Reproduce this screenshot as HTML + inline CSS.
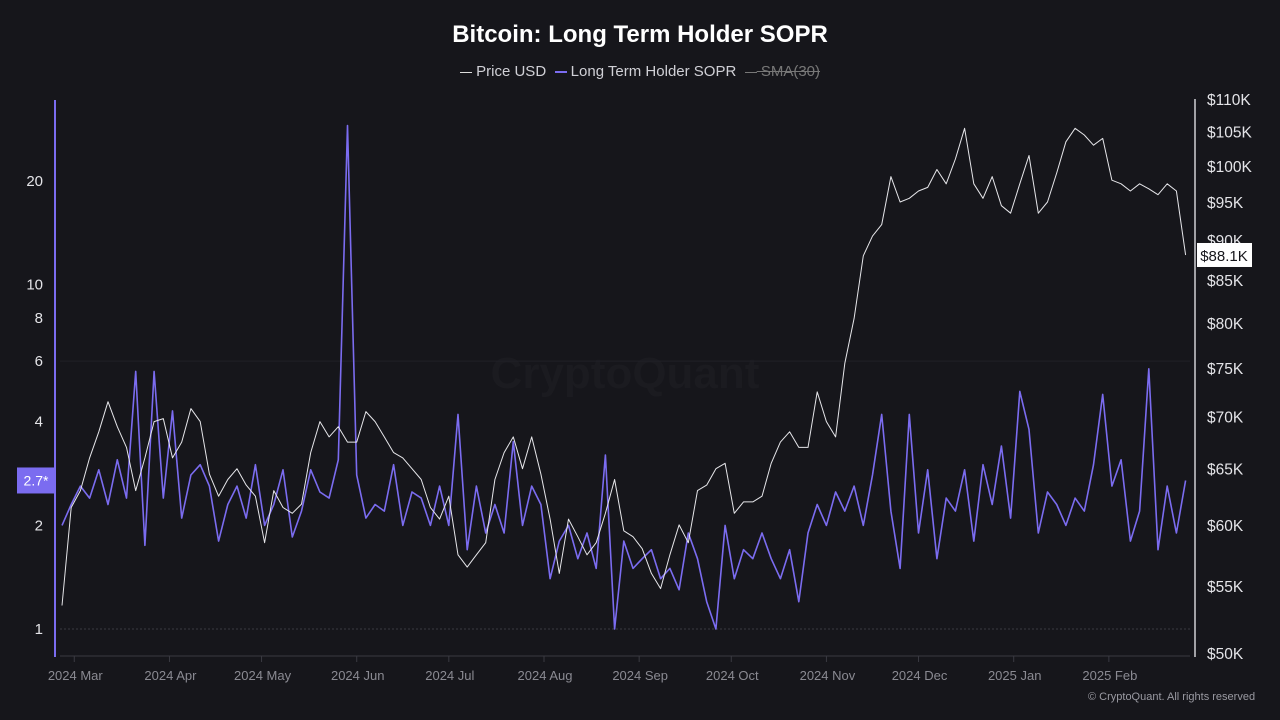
<!DOCTYPE html>
<html><head><meta charset="utf-8"><style>
html,body{margin:0;padding:0;background:#16161b;}
body{width:1280px;height:720px;overflow:hidden;font-family:"Liberation Sans",sans-serif;position:relative;}
.t{position:absolute;color:#c9c9cf;font-size:15px;}
svg text{font-family:"Liberation Sans",sans-serif;}
</style></head><body>
<div style="position:absolute;top:21px;width:1280px;text-align:center;color:#fff;font-size:24px;font-weight:bold;">Bitcoin: Long Term Holder SOPR</div>
<div style="position:absolute;top:63px;width:1280px;text-align:center;color:#d0d0d6;font-size:15px;">
<span><span style="display:inline-block;width:12px;height:1px;background:#ddd;vertical-align:middle"></span> Price USD</span>
&nbsp;<span><span style="display:inline-block;width:12px;height:2px;background:#7b6cf0;vertical-align:middle"></span> Long Term Holder SOPR</span>
&nbsp;<span style="color:#777;text-decoration:line-through"><span style="display:inline-block;width:12px;height:1px;background:#777;vertical-align:middle"></span> SMA(30)</span>
</div>
<svg id="c" width="1280" height="720" style="position:absolute;left:0;top:0">
<text x="625" y="388" text-anchor="middle" font-size="44" font-weight="bold" fill="#1b1b20">CryptoQuant</text>
</svg>
<div class="t" style="left:1088px;top:691px;font-size:11px;color:#9a9aa2">© CryptoQuant. All rights reserved</div>
<script>
const priceStart = "2024-02-26";
const stepDays = 3;
const priceK = [53.5,61.5,63,66,68.5,71.5,69,67,63,66,69.5,69.8,66,67.5,70.8,69.5,64.5,62.5,64,65,63.5,62.5,58.5,63,61.5,61,61.8,66.5,69.5,68,69,67.5,67.5,70.5,69.5,68,66.5,66,65,64,61.5,60.5,62.5,57.5,56.5,57.5,58.5,64,66.5,68,65,68,64.5,60.5,56,60.5,59,57.5,58.5,61,64,59.5,59,58,56,54.8,57.5,60,58.5,63,63.5,65,65.5,61,62,62,62.5,65.5,67.5,68.5,67,67,72.5,69.5,68,75.5,80.5,88,90.5,92,98.5,95,95.5,96.5,97,99.5,97.5,101,105.5,97.5,95.5,98.5,94.5,93.5,97.5,101.5,93.5,95,99,103.5,105.5,104.5,103,104,98,97.5,96.5,97.5,96.8,96,97.5,96.5,88.1];
const sopr = [2.0,2.3,2.6,2.4,2.9,2.3,3.1,2.4,5.6,1.75,5.6,2.4,4.3,2.1,2.8,3.0,2.6,1.8,2.3,2.6,2.1,3.0,2.0,2.3,2.9,1.85,2.2,2.9,2.5,2.4,3.1,29,2.8,2.1,2.3,2.2,3.0,2.0,2.5,2.4,2.0,2.6,2.0,4.2,1.7,2.6,1.9,2.3,1.9,3.5,2.0,2.6,2.3,1.4,1.8,2.0,1.6,1.9,1.5,3.2,1.0,1.8,1.5,1.6,1.7,1.4,1.5,1.3,1.9,1.6,1.2,1.0,2.0,1.4,1.7,1.6,1.9,1.6,1.4,1.7,1.2,1.9,2.3,2.0,2.5,2.2,2.6,2.0,2.8,4.2,2.2,1.5,4.2,1.9,2.9,1.6,2.4,2.2,2.9,1.8,3.0,2.3,3.4,2.1,4.9,3.8,1.9,2.5,2.3,2.0,2.4,2.2,3.0,4.8,2.6,3.1,1.8,2.2,5.7,1.7,2.6,1.9,2.7];
const leftTicks = [1,2,4,6,8,10,20];
const rightTicks = [50,55,60,65,70,75,80,85,90,95,100,105,110];
const monthTicks = ["2024-03-01","2024-04-01","2024-05-01","2024-06-01","2024-07-01","2024-08-01","2024-09-01","2024-10-01","2024-11-01","2024-12-01","2025-01-01","2025-02-01"];
const monthLabels = ["2024 Mar","2024 Apr","2024 May","2024 Jun","2024 Jul","2024 Aug","2024 Sep","2024 Oct","2024 Nov","2024 Dec","2025 Jan","2025 Feb"];

const NS="http://www.w3.org/2000/svg", svg=document.getElementById('c');
const t0=Date.parse(priceStart);
const xDay=d=>62+d*3.07;
const xDate=s=>xDay((Date.parse(s)-t0)/864e5);
const yL=v=>629-Math.log10(v)*344.3;
const yR=v=>653-Math.log(v/50)/Math.log(110/50)*554;
function mk(tag,at){const e=document.createElementNS(NS,tag);for(const k in at)e.setAttribute(k,at[k]);svg.appendChild(e);return e;}
let g=mk('line',{x1:60,x2:1190,y1:yL(1),y2:yL(1),stroke:'#3a3a42','stroke-dasharray':'2,2'});


g=mk('line',{x1:60,x2:1190,y1:yL(6),y2:yL(6),stroke:'#202027'});


g=mk('line',{x1:60,x2:1190,y1:656,y2:656,stroke:'#3a3a42'});


g=mk('line',{x1:55,x2:55,y1:100,y2:657,stroke:'#7b6cf0','stroke-width':2});


g=mk('line',{x1:1195,x2:1195,y1:99,y2:657,stroke:'#cfcfd4','stroke-width':1.5});


leftTicks.forEach(v=>{const e=mk('text',{x:43,y:yL(v)+5,'text-anchor':'end','font-size':15,fill:'#e4e4e8'});e.textContent=String(v);

});
rightTicks.forEach(v=>{const e=mk('text',{x:1207,y:yR(v)+6,'font-size':15.5,fill:'#e4e4e8'});e.textContent='$'+v+'K';

});
monthTicks.forEach((m,i)=>{const x=xDate(m);mk('line',{x1:x,x2:x,y1:656,y2:662,stroke:'#3a3a42'});
const e=mk('text',{x:x+1,y:680,'text-anchor':'middle','font-size':13,fill:'#8a8a92'});e.textContent=monthLabels[i];

});
let p=mk('polyline',{points:sopr.map((v,i)=>xDay(i*stepDays).toFixed(1)+','+yL(v).toFixed(1)).join(' '),fill:'none',stroke:'#7b6cf0','stroke-width':1.6,'stroke-linejoin':'round'});


p=mk('polyline',{points:priceK.map((v,i)=>xDay(i*stepDays).toFixed(1)+','+yR(v).toFixed(1)).join(' '),fill:'none',stroke:'#e6e6ea','stroke-width':1,'stroke-linejoin':'round'});


const lp=priceK[priceK.length-1], ls=sopr[sopr.length-1];
let r=mk('rect',{x:1197,y:yR(lp)-12,width:55,height:24,fill:'#fff'});


let tx=mk('text',{x:1224,y:yR(lp)+6,'text-anchor':'middle','font-size':15,fill:'#16161b'});tx.textContent='$'+lp+'K';


r=mk('rect',{x:17,y:yL(ls)-13,width:38,height:26,fill:'#7b6cf0'});


tx=mk('text',{x:36,y:yL(ls)+5,'text-anchor':'middle','font-size':14,fill:'#fff'});tx.textContent=ls+'*';


</script>
</body></html>
